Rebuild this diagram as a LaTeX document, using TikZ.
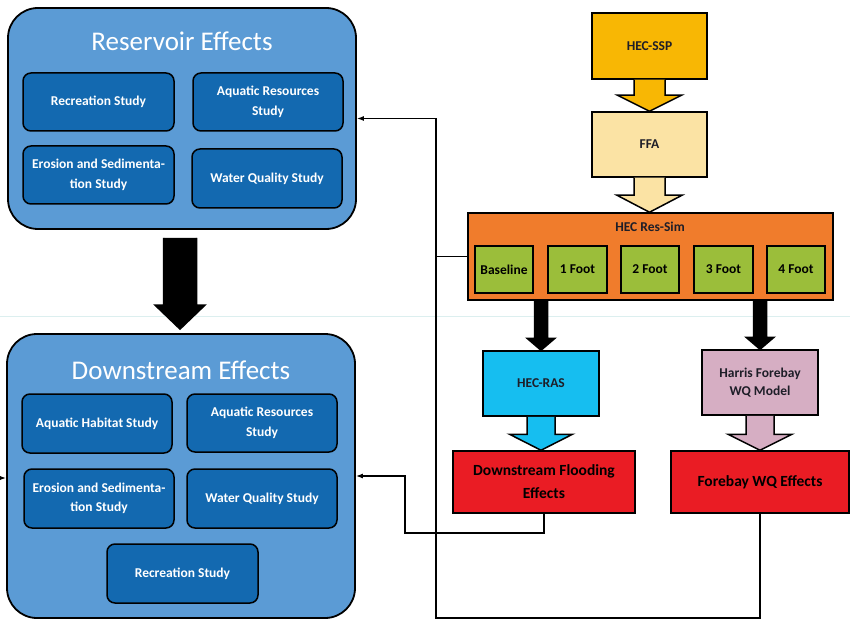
\documentclass[tikz,border=0pt]{standalone}
\usepackage{fontspec}
\setmainfont{Carlito}
\usetikzlibrary{calc,arrows.meta}
\definecolor{outerblue}{HTML}{5B9BD5}
\definecolor{innerblue}{HTML}{1369B0}
\definecolor{sspgold}{HTML}{F8B704}
\definecolor{ffayellow}{HTML}{FBE3A4}
\definecolor{ressimorange}{HTML}{F07C2C}
\definecolor{footgreen}{HTML}{9BBE3A}
\definecolor{rascyan}{HTML}{16BEF0}
\definecolor{harrispink}{HTML}{D6AEC3}
\definecolor{effred}{HTML}{EA1C24}
\definecolor{darktext}{HTML}{1E1E28}
\definecolor{scanline}{HTML}{DCEFEF}
\newcommand{\blockarr}[6]{%
  \draw[#6] ($(#1)+(-#3,0)$) -- ($(#1|-#2)+(-#3,-#5)$) -- ($(#1|-#2)+(-#4,-#5)$) -- (#1|-#2)
    -- ($(#1|-#2)+(#4,-#5)$) -- ($(#1|-#2)+(#3,-#5)$) -- ($(#1)+(#3,0)$);}
\tikzset{
  outerbox/.style={draw=black,line width=1.8pt,fill=outerblue,rounded corners=30pt,minimum width=348pt},
  titletext/.style={text=white,font=\fontsize{27}{30}\selectfont,inner sep=0pt},
  studybox/.style={draw=black,line width=1.5pt,fill=innerblue,rounded corners=8pt,text=white,
    font=\bfseries\fontsize{13.5}{19.5}\selectfont,align=center,inner sep=0pt,
    minimum width=150pt,minimum height=58pt},
  flowbox/.style={draw=black,line width=1.5pt,text=darktext,font=\bfseries\fontsize{13.5}{18}\selectfont,
    align=center,inner sep=0pt},
  redbox/.style={flowbox,fill=effred,text=black,font=\bfseries\fontsize{15.5}{23}\selectfont,minimum height=62pt},
  footbox/.style={draw=black,line width=2.2pt,fill=footgreen,text=black,font=\bfseries\fontsize{13.5}{15}\selectfont,
    inner sep=0pt,minimum width=58pt,minimum height=47pt},
  flowtext/.style={text=darktext,font=\bfseries\fontsize{13.5}{15}\selectfont,inner sep=0pt},
  conn/.style={draw=black,line width=1.2pt},
  connarrow/.style={conn,-{Latex[length=7pt,width=5pt]}},
  bigarrow/.style={draw=black,line width=1.5pt}
}
\begin{document}
\begin{tikzpicture}[x=1pt,y=-1pt]
\useasboundingbox (0,0) rectangle (850,620);
\fill[white] (0,0) rectangle (850,620);
\draw[scanline,line width=0.6pt] (0,316) -- (850,316);

% Reservoir effects
\node[outerbox,minimum height=221pt] (res) at (182,118.5) {};
\node[titletext] (restitle) at (182,41) {Reservoir Effects};
\node[studybox,minimum width=151pt] (rrec) at (98.5,102) {Recreation Study};
\node[studybox] (raqu) at (268,102) {Aquatic Resources\\Study};
\node[studybox,minimum width=151pt] (rero) at (98.5,175) {Erosion and Sedimenta-\\tion Study};
\node[studybox,minimum height=59pt] (rwq) at (267,178.5) {Water Quality Study};

% Downstream effects
\node[outerbox,minimum height=284pt] (ds) at (181,476) {};
\node[titletext] (dstitle) at (181,370) {Downstream Effects};
\node[studybox,minimum height=59pt] (dhab) at (97,423.5) {Aquatic Habitat Study};
\node[studybox] (daqu) at (262,423) {Aquatic Resources\\Study};
\node[studybox,minimum height=59pt] (dero) at (99,498.5) {Erosion and Sedimenta-\\tion Study};
\node[studybox,minimum height=59pt] (dwq) at (262,498.5) {Water Quality Study};
\node[studybox,minimum width=151pt,minimum height=59pt] (drec) at (182.5,573.5) {Recreation Study};

% big arrow between
\coordinate (bb1) at ($(res.south)+(-2,8)$);
\coordinate (bb2) at ($(ds.north)+(-1,-4)$);
\blockarr{bb1}{bb2}{16.5}{25}{24}{bigarrow,fill=black}

% Right side flow
\node[flowbox,fill=sspgold,minimum width=115pt,minimum height=66pt] (ssp) at (649.5,46) {HEC-SSP};
\node[flowbox,fill=ffayellow,minimum width=115pt,minimum height=65pt] (ffa) at (649.5,144.5) {FFA};
\node[flowbox,fill=ressimorange,minimum width=365pt,minimum height=87pt] (ressim) at (650.5,256.5) {};
\node[flowtext] (ressimtitle) at (650,227) {HEC Res-Sim};
\node[footbox] (fbase) at (504,269.5) {Baseline};
\node[footbox,minimum width=59pt] (f1) at (577.5,269.5) {1 Foot};
\node[footbox] (f2) at (650,269.5) {2 Foot};
\node[footbox,minimum width=59pt] (f3) at (723.5,269.5) {3 Foot};
\node[footbox] (f4) at (796,269.5) {4 Foot};
\node[flowbox,fill=rascyan,minimum width=116pt,minimum height=65pt] (ras) at (541,383.5) {HEC-RAS};
\node[flowbox,fill=harrispink,minimum width=116pt,minimum height=65pt] (harris) at (760,382.5) {Harris Forebay\\WQ Model};
\node[redbox,minimum width=182pt] (flood) at (544,482) {Downstream Flooding\\Effects};
\node[redbox,minimum width=178pt] (fwq) at (760,482) {Forebay WQ Effects};

% block arrows
\blockarr{ssp.south}{ffa.north}{15.5}{32}{16}{bigarrow,fill=sspgold}
\blockarr{ffa.south}{ressim.north}{15.5}{32.5}{17}{bigarrow,fill=ffayellow}
\coordinate (ka1) at (ras.north |- ressim.south);
\coordinate (ka2) at (harris.north |- ressim.south);
\blockarr{ka1}{ras.north}{6.5}{14}{12}{bigarrow,fill=black}
\blockarr{ka2}{harris.north}{6.5}{14}{12}{bigarrow,fill=black}
\blockarr{ras.south}{flood.north}{14}{31.5}{16}{bigarrow,fill=rascyan}
\blockarr{harris.south}{fwq.north}{14}{32}{16}{bigarrow,fill=harrispink}

% connectors
\coordinate (busb) at (436,618);
\coordinate (bust) at (res.east -| busb);
\draw[connarrow] (fwq.south) |- (busb) -- (bust) -- (res.east);
\draw[conn] (ressim.west) -- (ressim.west -| busb);
\coordinate (fl1) at (405,533);
\draw[connarrow] (flood.south) |- (fl1) |- (ds.east);
\coordinate (lin) at (0,478);
\draw[connarrow] (lin) -- (lin -| ds.west);
\end{tikzpicture}
\end{document}
